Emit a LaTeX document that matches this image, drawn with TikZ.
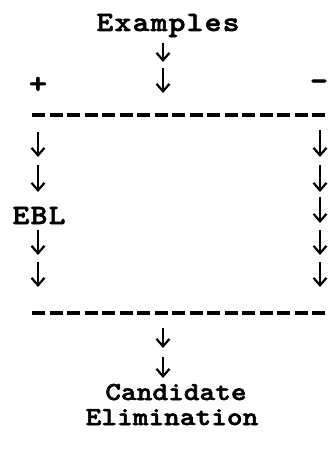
\documentclass[tikz,border=0pt]{standalone}
\usepackage{fontspec}
\newfontfamily\tw{lmmonolt10-bold}[Extension=.otf, FakeBold=2, FakeStretch=1.15]
\usetikzlibrary{arrows.meta}
\begin{document}
\begin{tikzpicture}[x=1pt,y=-1pt,
  lbl/.style={inner sep=0pt, anchor=base, font=\tw\fontsize{26}{30}\selectfont},
  wide/.style={lbl, font=\tw\fontsize{28}{30}\selectfont\addfontfeature{LetterSpace=4}},
  mid/.style={lbl, font=\tw\fontsize{26}{30}\selectfont},
  sign/.style={inner sep=0pt, anchor=center, font=\tw\fontsize{30}{30}\selectfont},
  dn/.style={line width=2.2pt, -{Straight Barb[length=7.5pt,width=13pt]}},
  dashline/.style={line width=3.5pt, dash pattern=on 13pt off 4.5pt}]
\useasboundingbox (0,0) rectangle (328,454);
% texts
\node[wide] (ex) at (168,31) {Examples};
\node[sign] (plus) at (38,85) {+};
\node[sign] (minus) at (319,85) {-};
\node[wide] (ebl) at (39,224) {EBL};
\node[mid] (cand) at (176,400) {Candidate};
\node[mid] (elim) at (172,425) {Elimination};
% dashed separators
\coordinate (d1l) at (32,115); \coordinate (d1r) at (332,115);
\coordinate (d2l) at (32,313); \coordinate (d2r) at (332,313);
\draw[dashline] (d1l) -- (d1r);
\draw[dashline] (d2l) -- (d2r);
% arrows
\foreach \n/\x/\a/\b in {1/163/43/62, 2/163/68/93,
   3/38/132/157, 4/38/165/192, 5/38/230/255, 6/38/262/287,
   7/320/130/157, 8/320/165/192, 9/320/197/223, 10/320/230/255, 11/320/262/287,
   12/163/328/348, 13/163/357/378}{
  \coordinate (t\n) at (\x,\a);
  \coordinate (b\n) at (\x,\b);
  \draw[dn] (t\n) -- (b\n);
}
\end{tikzpicture}
\end{document}
